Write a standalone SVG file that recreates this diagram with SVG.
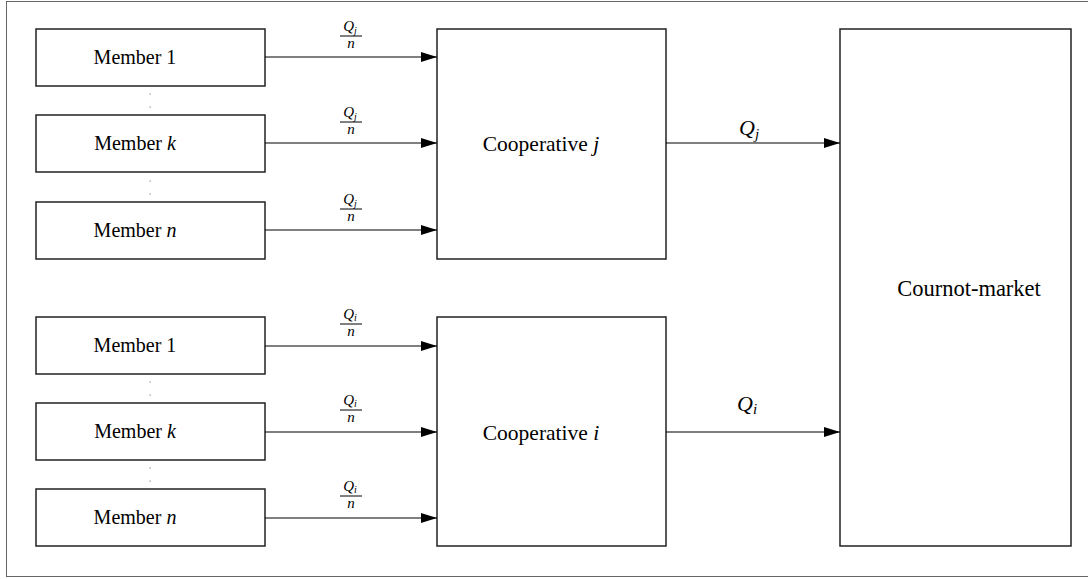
<svg xmlns="http://www.w3.org/2000/svg" width="1088" height="579" viewBox="0 0 1088 579">
  <defs>
    <marker id="arr" markerWidth="16" markerHeight="10" refX="16" refY="5" orient="auto" markerUnits="userSpaceOnUse">
      <path d="M0,0 L16,5 L0,10 Z" fill="#000"/>
    </marker>
    <style>
      .box { fill: #fff; stroke: #222; stroke-width: 1.5; }
      .frame { fill: none; stroke: #666; stroke-width: 1; }
      .lbl { font-family: "Liberation Serif", "Times New Roman", serif; font-size: 20px; fill: #000; text-anchor: middle; }
      .big { font-size: 21.5px; }
      .mkt { font-size: 22.5px; }
      .it { font-style: italic; }
      .frac { font-family: "Liberation Serif", "Times New Roman", serif; font-size: 15px; font-style: italic; fill: #000; text-anchor: middle; }
      .out { font-family: "Liberation Serif", "Times New Roman", serif; font-size: 22px; font-style: italic; fill: #000; }
      .conn { stroke: #000; stroke-width: 1.2; fill: none; marker-end: url(#arr); }
      .bar { stroke: #000; stroke-width: 1; }
      .dot { fill: #888; }
    </style>
  </defs>

  <rect x="0" y="0" width="1088" height="579" fill="#fff"/>
  <rect class="frame" x="6.5" y="1.5" width="1082" height="575"/>

  <!-- member nodes, cooperative j -->
  <g id="member-j-1"><rect class="box" x="36" y="29" width="229" height="57"/><text class="lbl" x="135" y="64">Member 1</text></g>
  <g id="member-j-k"><rect class="box" x="36" y="115" width="229" height="57"/><text class="lbl" x="135" y="150">Member <tspan class="it">k</tspan></text></g>
  <g id="member-j-n"><rect class="box" x="36" y="202" width="229" height="57"/><text class="lbl" x="135" y="237">Member <tspan class="it">n</tspan></text></g>

  <!-- member nodes, cooperative i -->
  <g id="member-i-1"><rect class="box" x="36" y="317" width="229" height="57"/><text class="lbl" x="135" y="352">Member 1</text></g>
  <g id="member-i-k"><rect class="box" x="36" y="403" width="229" height="57"/><text class="lbl" x="135" y="438">Member <tspan class="it">k</tspan></text></g>
  <g id="member-i-n"><rect class="box" x="36" y="489" width="229" height="57"/><text class="lbl" x="135" y="524">Member <tspan class="it">n</tspan></text></g>

  <!-- ellipsis dots between members -->
  <g id="ellipses">
    <rect class="dot" x="149.5" y="93.5" width="1.2" height="1.2"/>
    <rect class="dot" x="149.5" y="106.5" width="1.2" height="1.2"/>
    <rect class="dot" x="149.5" y="180.5" width="1.2" height="1.2"/>
    <rect class="dot" x="149.5" y="193.5" width="1.2" height="1.2"/>
    <rect class="dot" x="149.5" y="381.5" width="1.2" height="1.2"/>
    <rect class="dot" x="149.5" y="394.5" width="1.2" height="1.2"/>
    <rect class="dot" x="149.5" y="467.5" width="1.2" height="1.2"/>
    <rect class="dot" x="149.5" y="480.5" width="1.2" height="1.2"/>
  </g>

  <!-- cooperatives and market -->
  <g id="coop-j"><rect class="box" x="437" y="29" width="229" height="230"/><text class="lbl big" x="541" y="151">Cooperative <tspan class="it">j</tspan></text></g>
  <g id="coop-i"><rect class="box" x="437" y="317" width="229" height="229"/><text class="lbl big" x="541" y="440">Cooperative <tspan class="it">i</tspan></text></g>
  <g id="market"><rect class="box" x="840" y="29" width="231" height="517"/><text class="lbl mkt" x="969" y="296">Cournot-market</text></g>

  <!-- connectors -->
  <g id="connectors">
    <line class="conn" x1="265" y1="57" x2="437" y2="57"/>
    <line class="conn" x1="265" y1="143" x2="437" y2="143"/>
    <line class="conn" x1="265" y1="230" x2="437" y2="230"/>
    <line class="conn" x1="265" y1="346" x2="437" y2="346"/>
    <line class="conn" x1="265" y1="432" x2="437" y2="432"/>
    <line class="conn" x1="265" y1="518" x2="437" y2="518"/>
    <line class="conn" x1="666" y1="143" x2="840" y2="143"/>
    <line class="conn" x1="666" y1="432" x2="840" y2="432"/>
  </g>

  <!-- connector labels: Q/n fractions -->
  <g id="labels">
    <g transform="translate(351,36)"><text class="frac" x="-1" y="-5">Q<tspan font-size="10" dy="3">j</tspan></text><line class="bar" x1="-11" y1="0" x2="11" y2="0"/><text class="frac" x="0" y="12">n</text></g>
    <g transform="translate(351,122)"><text class="frac" x="-1" y="-5">Q<tspan font-size="10" dy="3">j</tspan></text><line class="bar" x1="-11" y1="0" x2="11" y2="0"/><text class="frac" x="0" y="12">n</text></g>
    <g transform="translate(351,209)"><text class="frac" x="-1" y="-5">Q<tspan font-size="10" dy="3">j</tspan></text><line class="bar" x1="-11" y1="0" x2="11" y2="0"/><text class="frac" x="0" y="12">n</text></g>
    <g transform="translate(351,324)"><text class="frac" x="-1" y="-5">Q<tspan font-size="10" dy="2">i</tspan></text><line class="bar" x1="-11" y1="0" x2="11" y2="0"/><text class="frac" x="0" y="12">n</text></g>
    <g transform="translate(351,410)"><text class="frac" x="-1" y="-5">Q<tspan font-size="10" dy="2">i</tspan></text><line class="bar" x1="-11" y1="0" x2="11" y2="0"/><text class="frac" x="0" y="12">n</text></g>
    <g transform="translate(351,496)"><text class="frac" x="-1" y="-5">Q<tspan font-size="10" dy="2">i</tspan></text><line class="bar" x1="-11" y1="0" x2="11" y2="0"/><text class="frac" x="0" y="12">n</text></g>
    <text class="out" x="739" y="135">Q<tspan font-size="15" dy="4">j</tspan></text>
    <text class="out" x="737" y="411">Q<tspan font-size="15" dy="3">i</tspan></text>
  </g>
</svg>
